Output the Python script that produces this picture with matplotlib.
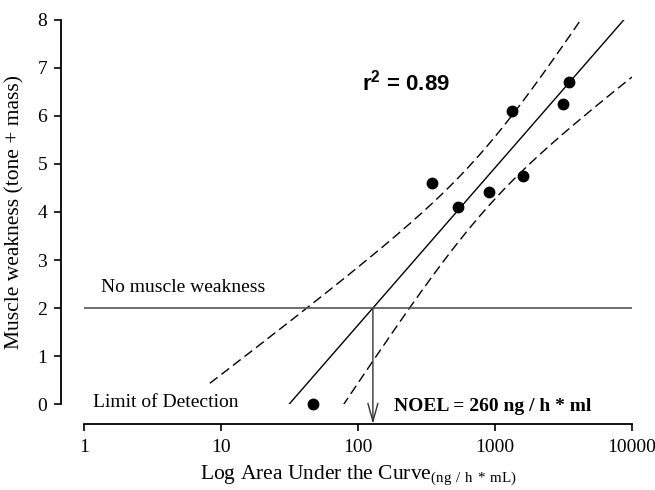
import matplotlib
matplotlib.use('Agg')
import matplotlib.pyplot as plt
import numpy as np

# data
auc = np.array([47, 349, 540, 904, 1330, 1610, 3155, 3450])        # ng/h*mL
weakness = np.array([0, 4.61, 4.11, 4.41, 6.11, 4.76, 6.26, 6.71])  # score
x_ticks = [1, 10, 100, 1000, 10000]
x_ticklabels = ['1', '10', '100', '1000', '10000']
y_ticks = [0, 1, 2, 3, 4, 5, 6, 7, 8]
threshold = 2          # no muscle weakness
band_start = 8.3       # curves drawn from here on
t_crit = 2.447         # t(0.975, df=6)

plt.rcParams['font.family'] = 'Liberation Serif'
plt.rcParams['mathtext.fontset'] = 'custom'
plt.rcParams['mathtext.rm'] = 'Liberation Serif'
plt.rcParams['mathtext.bf'] = 'Liberation Sans:bold'

# linear regression on log10(AUC) + 95% confidence band
lx = np.log10(auc)
slope, icpt = np.polyfit(lx, weakness, 1)
n = len(lx)
resid = weakness - (icpt + slope * lx)
s = np.sqrt(np.sum(resid ** 2) / (n - 2))
sxx = np.sum((lx - lx.mean()) ** 2)
xs = np.logspace(np.log10(band_start), 4, 300)
fit = icpt + slope * np.log10(xs)
hw = t_crit * s * np.sqrt(1.0 / n + (np.log10(xs) - lx.mean()) ** 2 / sxx)
x_noel = 10 ** ((threshold - icpt) / slope)

fig = plt.figure(figsize=(6.55, 4.9), dpi=100)
ax = fig.add_axes([0.1282, 0.1755, 0.8366, 0.7837])
ax.set_xscale('log')
ax.set_xlim(1, 10000)
ax.set_ylim(0, 8)

ax.plot(xs, fit, color='black', lw=1)
ax.plot(xs, fit + hw, color='black', lw=1, dashes=(7, 3.5))
ax.plot(xs, fit - hw, color='black', lw=1, dashes=(7, 3.5))
ax.plot(auc, weakness, 'o', color='black', ms=7.5, clip_on=False, zorder=5)

ax.axhline(threshold, color='#555555', lw=1.2)
ax.annotate('', xy=(x_noel, -20 / 384), xycoords=('data', 'axes fraction'),
            xytext=(x_noel, threshold), textcoords='data',
            arrowprops=dict(arrowstyle='->,head_length=1.3,head_width=0.36',
                            color='#333333', lw=1, shrinkA=0, shrinkB=0))

ax.text(1.33, 2.33, 'No muscle weakness', fontsize=14)
ax.text(1.163, -0.055, 'Limit of Detection', fontsize=14)
ax.text(183, -0.14, 'NOEL = 260 ng / h * ml', fontsize=14, fontweight='bold')
ax.text(107, 6.53, r'$\mathbf{r^2}$ = 0.89', family='Liberation Sans',
        fontweight='bold', fontsize=16)

for side in ['top', 'right']:
    ax.spines[side].set_visible(False)
ax.spines['left'].set_position(('outward', 16.5))
ax.spines['bottom'].set_position(('outward', 14.4))
for side in ['left', 'bottom']:
    ax.spines[side].set_linewidth(1.3)

ax.set_xticks(x_ticks)
ax.set_xticklabels(x_ticklabels)
ax.xaxis.set_minor_locator(matplotlib.ticker.NullLocator())
ax.set_yticks(y_ticks)
ax.tick_params(direction='out', length=5, width=1.2, labelsize=14, pad=5)
ax.tick_params(axis='x', pad=6)

ax.set_xlabel(r'Log Area Under the Curve$_{\mathrm{(ng\ /\ h\ {*}\ mL)}}$',
              fontsize=15.5, labelpad=5)
ax.set_ylabel('Muscle weakness (tone + mass)', fontsize=15.5, labelpad=9)

fig.savefig('out.png', dpi=100)
